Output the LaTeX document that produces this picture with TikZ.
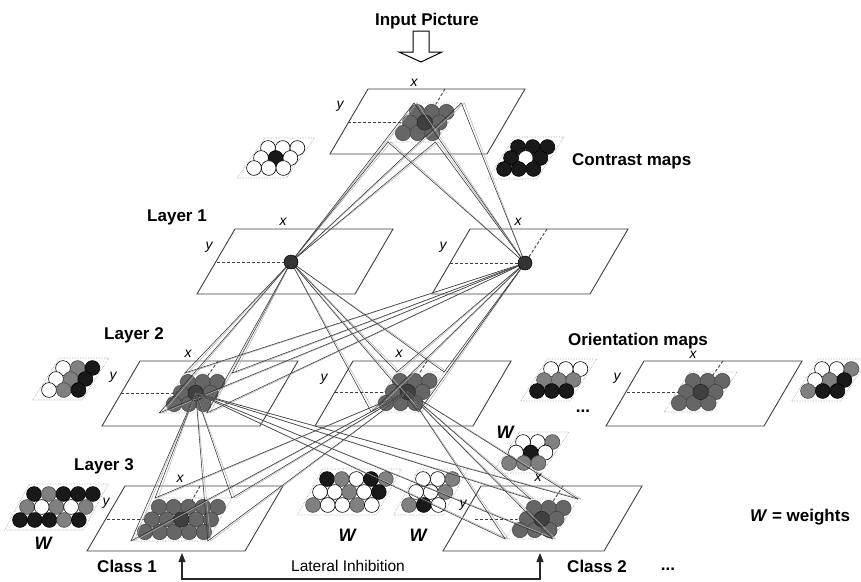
\documentclass[tikz,border=0pt]{standalone}
\usepackage{fontspec}
\setmainfont{Liberation Sans}
\usetikzlibrary{arrows.meta}
\newcommand\drawplane[3]{\draw[plane] (#1,#2) -- ++(#3,0) -- ++(-38,65) -- ++(-#3,0) -- cycle;}
\newcommand\spatch[8]{%
  \pgfmathsetmacro\pS{7/#6}%
  \pgfmathsetmacro\pW{14.7*(#4-1)}%
  \pgfmathsetmacro\pH{#6*(#5-1)}%
  \coordinate (#1-tl) at ({#2-9+9*\pS},{#3-9});%
  \coordinate (#1-tr) at ({#2+\pW+9+9*\pS},{#3-9});%
  \coordinate (#1-br) at ({#2+\pW+9-(\pH+9)*\pS},{#3+\pH+9});%
  \coordinate (#1-bl) at ({#2-9-(\pH+9)*\pS},{#3+\pH+9});%
  \coordinate (#1-c) at ({#2+14.7*(#7-1)-7*(#8-1)},{#3+#6*(#8-1)});%
  \draw[pbox] (#1-tl) -- (#1-tr) -- (#1-br) -- (#1-bl) -- cycle;%
  \foreach \ii in {1,...,#5}{\foreach \jj in {1,...,#4}{%
    \filldraw[sph] ({#2+14.7*(\jj-1)-7*(\ii-1)},{#3+#6*(\ii-1)}) circle (7.7pt);}}%
  \filldraw[sphd] (#1-c) circle (7.7pt);%
}
\newcommand\wmap[7]{%
  \pgfmathsetmacro\pS{7/#3}%
  \pgfmathsetmacro\pW{14.7*(#4-1)}%
  \pgfmathsetmacro\pH{#3*2}%
  \draw[pbox] ({#1-10+10*\pS},{#2-10}) -- ({#1+\pW+10+10*\pS},{#2-10}) -- ({#1+\pW+10-(\pH+10)*\pS},{#2+\pH+10}) -- ({#1-10-(\pH+10)*\pS},{#2+\pH+10}) -- cycle;%
  \foreach \kk [count=\jj] in {#5}{\filldraw[c\kk] ({#1+14.7*(\jj-1)},{#2}) circle (7.4pt);}%
  \foreach \kk [count=\jj] in {#6}{\filldraw[c\kk] ({#1+14.7*(\jj-1)-7},{#2+#3}) circle (7.4pt);}%
  \foreach \kk [count=\jj] in {#7}{\filldraw[c\kk] ({#1+14.7*(\jj-1)-14},{#2+2*#3}) circle (7.4pt);}%
}
\begin{document}
\begin{tikzpicture}[x=1pt,y=-1pt,
  plane/.style={draw=black!75, line width=0.9pt},
  dsh/.style={draw=black!75, line width=0.9pt, dash pattern=on 3pt off 2pt},
  pbox/.style={draw=black!35, line width=0.6pt, densely dotted},
  sph/.style={fill=black!60, draw=black!75, line width=0.5pt},
  sphd/.style={fill=black!75, draw=black!85, line width=0.5pt},
  cw/.style={fill=white, draw=black, line width=0.6pt},
  cg/.style={fill=black!50, draw=black!70, line width=0.6pt},
  cb/.style={fill=black!90, draw=black, line width=0.6pt},
  conn/.style={draw=black!80, line width=0.55pt},
  connl/.style={draw=black!30, line width=0.5pt},
  lbl/.style={font=\fontsize{17}{20}\selectfont\bfseries, inner sep=0pt},
  axl/.style={font=\fontsize{14}{16}\selectfont\itshape, inner sep=0pt},
  wlab/.style={font=\fontsize{18}{20}\selectfont\bfseries\itshape, inner sep=0pt},
  l1unit/.style={fill=black!80, draw=black, line width=0.5pt}
]
\fill[white] (0,0) rectangle (861,581);
\useasboundingbox (0,0) rectangle (861,581);

% planes
\drawplane{368}{89}{157}
\drawplane{235}{229}{158}
\drawplane{470}{229}{158}
\drawplane{140}{361}{158}
\drawplane{353}{361}{158}
\drawplane{644}{361}{158}
\drawplane{125}{486}{158}
\drawplane{481}{486}{161}

\coordinate (n1) at (291,262);
\coordinate (n2) at (525,263);
% patch centres for dashed lines (same as spatch centres)
\coordinate (tpc) at (424.7,122.5);
\coordinate (pac) at (195.7,393);
\coordinate (pbc) at (407.7,392);
\coordinate (pcc) at (700.7,392);
\coordinate (qac) at (181.4,519.5);
\coordinate (qbc) at (541.7,519);

% dashed axes
\draw[dsh] (348,122.5) -- (tpc);  \draw[dsh] (445,89) -- (tpc);
\draw[dsh] (217,262) -- (n1);
\draw[dsh] (450,263) -- (n2);     \draw[dsh] (547,229) -- (n2);
\draw[dsh] (121,393) -- (pac);    \draw[dsh] (218,361) -- (pac);
\draw[dsh] (335,392) -- (pbc);    \draw[dsh] (427,361) -- (pbc);
\draw[dsh] (627,392) -- (pcc);    \draw[dsh] (723,361) -- (pcc);
\draw[dsh] (107,519.5) -- (qac);  \draw[dsh] (200,486) -- (qac);
\draw[dsh] (475,519) -- (qbc);    \draw[dsh] (563,486) -- (qbc);

% sphere patches
\spatch{tp}{417}{112}{3}{3}{10.5}{2}{2}
\spatch{pa}{188}{382}{3}{3}{11}{2}{2}
\spatch{pb}{400}{381}{3}{3}{11}{2}{2}
\spatch{pc}{693}{381}{3}{3}{11}{2}{2}
\spatch{qa}{159}{507}{5}{3}{12.5}{3}{2}
\spatch{qb}{534}{508}{3}{3}{11}{2}{2}

% weight maps
\wmap{268}{148}{10}{3}{w,w,w}{w,b,w}{w,w,w}
\wmap{518}{147}{11}{3}{b,b,b}{b,w,b}{b,b,b}
\wmap{63}{368}{11}{3}{w,g,b}{w,g,b}{w,g,b}
\wmap{551}{369}{11}{3}{w,w,w}{g,g,g}{b,b,b}
\wmap{822}{369}{11}{3}{w,w,g}{w,g,b}{g,b,b}
\wmap{34}{494}{13}{5}{b,g,b,b,b}{g,w,g,w,g}{b,b,b,g,b}
\wmap{327}{479}{13}{5}{b,g,w,b,g}{w,w,g,w,b}{g,w,w,g,w}
\wmap{423}{479}{13}{3}{w,w,g}{w,w,g}{g,b,w}
\wmap{523}{442}{10.5}{3}{w,w,g}{w,b,w}{g,g,g}

% connectors
\foreach \n in {n1,n2}{\foreach \k in {tl,tr,br,bl}{
  \draw[connl] (\n) -- ([xshift=3pt]tp-\k);
  \draw[conn] (\n) -- (tp-\k);}}
\foreach \n in {n1,n2}{\foreach \p in {pa,pb}{\foreach \k in {tl,tr,br,bl}{
  \draw[connl] (\n) -- ([xshift=3pt]\p-\k);
  \draw[conn] (\n) -- (\p-\k);}}}
\foreach \p in {pa,pb}{\foreach \q in {qa,qb}{\foreach \k in {tl,tr,br,bl}{
  \draw[connl] (\p-c) -- ([xshift=3pt]\q-\k);
  \draw[conn] (\p-c) -- (\q-\k);}}}

% layer-1 units
\filldraw[l1unit] (n1) circle (7pt);
\filldraw[l1unit] (n2) circle (7pt);

% input arrow
\draw[line width=1pt, fill=white] (413,31) -- (429,31) -- (429,52) -- (442,52) -- (421,62) -- (399,52) -- (413,52) -- cycle;

% lateral inhibition
\coordinate (la1) at (182,579);
\coordinate (la2) at (540,579);
\coordinate (ta1) at (182,553);
\coordinate (ta2) at (540,553);
\draw[black!85, line width=1.1pt, {Triangle[width=7pt,length=9pt]}-{Triangle[width=7pt,length=9pt]}] (ta1) -- (la1) -- (la2) -- (ta2);

% labels
\node[lbl, anchor=base] (tin) at (427,25) {Input Picture};
\node[lbl, anchor=base west] (tcon) at (572,165) {Contrast maps};
\node[lbl, anchor=base] (tl1) at (177,221) {Layer 1};
\node[lbl, anchor=base] (tl2) at (134,339) {Layer 2};
\node[lbl, anchor=base] (tl3) at (104,470) {Layer 3};
\node[lbl, anchor=base] (tor) at (638,345) {Orientation maps};
\node[lbl, anchor=base] (tc1) at (127,572) {Class 1};
\node[lbl, anchor=base] (tc2) at (597,572) {Class 2};
\node[font=\fontsize{15.5}{18}\selectfont, inner sep=0pt, anchor=base] (tlat) at (348,571) {Lateral Inhibition};
\node[lbl, anchor=base] (tw) at (800,521) {\textit{W} = weights};
\node[lbl] (dots1) at (583,411) {...};
\node[lbl] (dots2) at (668,569) {...};

\foreach \pt [count=\i] in {(414,83),(283,222),(518,222),(188,354),(399,354),(693,355),(180,479),(538,478)}
  \node[axl] (ax\i) at \pt {x};
\foreach \pt [count=\i] in {(340,106),(209,247),(443,247),(113,377),(324,379),(617,378),(106,503),(463,505)}
  \node[axl] (ay\i) at \pt {y};
\foreach \pt [count=\i] in {(43,543),(347,535),(418,535),(505,432)}
  \node[wlab] (wl\i) at \pt {W};
\end{tikzpicture}
\end{document}
